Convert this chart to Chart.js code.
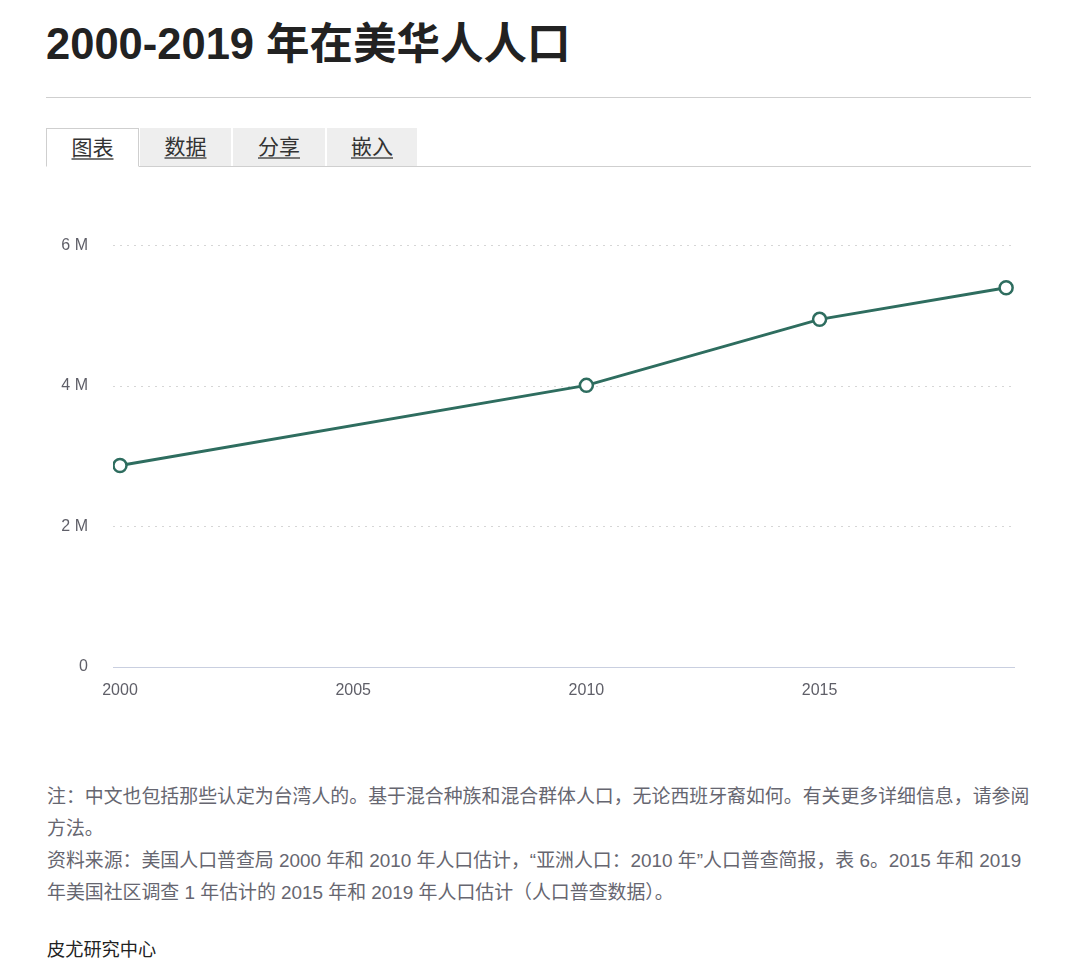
<!DOCTYPE html>
<html>
<head>
<meta charset="utf-8">
<script src="https://cdn.jsdelivr.net/npm/chart.js@4"></script>
<style>
  html, body { margin: 0; padding: 0; background: #ffffff; }
  body { width: 1080px; height: 978px; position: relative; overflow: hidden;
         font-family: "Liberation Sans", Arial, "Noto Sans CJK SC", sans-serif; }
  #title { position: absolute; left: 46px; top: 9px; margin: 0; font-size: 43.5px; font-weight: bold;
           color: #222; white-space: nowrap; }
  #rule { position: absolute; left: 46px; top: 97px; width: 985px; height: 0; border-top: 1px solid #cfcfcf; }
  #tabline { position: absolute; left: 46px; top: 166px; width: 985px; height: 0; border-top: 1px solid #cfcfcf; }
  .tab { position: absolute; top: 128px; height: 38px; background: #eeeeee; box-sizing: border-box;
         font-size: 21px; color: #333; text-align: center; line-height: 38px; }
  .tab span { text-decoration: underline; text-decoration-color: #777; text-underline-offset: 3px; }
  .tab.active { background: #fff; border: 1px solid #cfcfcf; border-bottom: 1px solid #fff; height: 39px; z-index: 2; }
  #chartbox { position: absolute; left: 40px; top: 211px; width: 990px; height: 499px; }
  #notes { position: absolute; left: 47px; top: 781px; font-size: 18.9px; line-height: 32px; color: #666670;
           white-space: nowrap; }
  #org { position: absolute; left: 47px; top: 935px; font-size: 18.2px; color: #222; }
</style>
</head>
<body>
<h1 id="title">2000-2019 年在美华人人口</h1>
<div id="rule"></div>
<div class="tab active" style="left:46px;width:93px;"><span>图表</span></div>
<div class="tab" style="left:140px;width:91px;"><span>数据</span></div>
<div class="tab" style="left:233px;width:92px;"><span>分享</span></div>
<div class="tab" style="left:327px;width:90px;"><span>嵌入</span></div>
<div id="tabline"></div>
<div id="chartbox"><canvas id="c" width="990" height="499"></canvas></div>
<div id="notes">注：中文也包括那些认定为台湾人的。基于混合种族和混合群体人口，无论西班牙裔如何。有关更多详细信息，请参阅<br>方法。<br>资料来源：美国人口普查局 2000 年和 2010 年人口估计，“亚洲人口：2010 年”人口普查简报，表 6。2015 年和 2019<br>年美国社区调查 1 年估计的 2015 年和 2019 年人口估计（人口普查数据）。</div>
<div id="org">皮尤研究中心</div>
<script>
const years = [2000, 2010, 2015, 2019];
const population = [2.87, 4.01, 4.95, 5.40]; // millions
const xTicks = [2000, 2005, 2010, 2015];
const yTicks = [0, 2, 4, 6];

const lineColor = '#2e6d5f';
const tickFont = { family: '"Liberation Sans", Arial, sans-serif', size: 16 };

new Chart(document.getElementById('c'), {
  type: 'line',
  data: {
    datasets: [{
      data: years.map((y, i) => ({ x: y, y: population[i] })),
      borderColor: lineColor,
      borderWidth: 3,
      pointRadius: 6.5,
      pointBorderWidth: 2.5,
      pointBackgroundColor: '#ffffff',
      pointBorderColor: lineColor,
      tension: 0,
      fill: false
    }]
  },
  options: {
    responsive: false,
    animation: false,
    devicePixelRatio: 1,
    layout: { padding: { top: 14, right: 15, left: 0, bottom: 0 } },
    plugins: { legend: { display: false }, tooltip: { enabled: false } },
    scales: {
      x: {
        type: 'linear',
        min: 1999.85,
        max: 2019.19,
        afterBuildTicks: (axis) => { axis.ticks = xTicks.map(v => ({ value: v })); },
        afterFit: (axis) => { axis.height = 43; },
        grid: { display: false, drawTicks: false },
        border: { display: false },
        ticks: {
          padding: 14,
          color: '#5f5f68',
          font: tickFont,
          callback: (v) => String(v),
          maxRotation: 0
        }
      },
      y: {
        min: 0,
        max: 6,
        afterBuildTicks: (axis) => { axis.ticks = yTicks.map(v => ({ value: v })); },
        afterFit: (axis) => { axis.width = 73; },
        grid: {
          drawTicks: false,
          lineWidth: 1,
          color: (ctx) => ctx.tick && ctx.tick.value === 0 ? 'rgba(0,0,0,0)' : '#d6d6d6'
        },
        border: { display: false, dash: [2, 5] },
        ticks: {
          padding: 25,
          color: '#5f5f68',
          font: tickFont,
          callback: (v) => v === 0 ? '0' : v + ' M'
        }
      }
    }
  },
  plugins: [{
    id: 'zeroLine',
    beforeDatasetsDraw(chart) {
      const ys = chart.scales.y;
      const ca = chart.chartArea;
      const y0 = Math.round(ys.getPixelForValue(0)) + 0.5;
      const ctx = chart.ctx;
      ctx.save();
      ctx.strokeStyle = '#c9cfe0';
      ctx.lineWidth = 1;
      ctx.beginPath();
      ctx.moveTo(ca.left, y0);
      ctx.lineTo(ca.right, y0);
      ctx.stroke();
      ctx.restore();
    }
  }]
});
</script>
</body>
</html>
